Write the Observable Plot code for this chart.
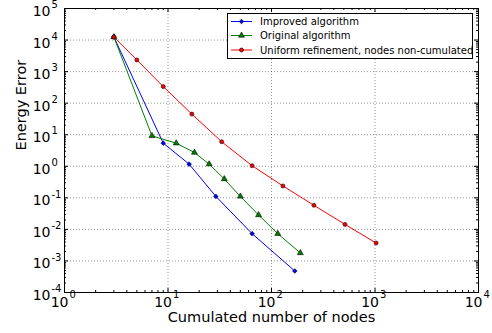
<!DOCTYPE html>
<html>
<head>
<meta charset="utf-8">
<script src="https://cdn.jsdelivr.net/npm/d3@7"></script>
<script src="https://cdn.jsdelivr.net/npm/@observablehq/plot@0.6"></script>
<style>
  html, body { margin: 0; padding: 0; background: white; }
  #wrap { position: relative; width: 492px; height: 333px; font-family: "DejaVu Sans", sans-serif; }
  #legend { position: absolute; left: 226px; top: 12px; }
</style>
</head>
<body>
<div id="wrap"></div>
<script>
// ---- data ----
const improvedNodes = [3, 9, 16, 29, 65, 168];
const improvedError = [12500, 5.4, 1.17, 0.111, 0.0073, 0.00048];

const originalNodes = [3, 7, 12, 18, 25, 35, 50, 75, 115, 190];
const originalError = [12500, 9.2, 5.4, 2.73, 1.17, 0.394, 0.111, 0.0286, 0.0073, 0.00179];

const uniformNodes = [3, 5, 9, 17, 33, 65, 129, 257, 513, 1025];
const uniformError = [12500, 2350, 335, 45, 6.0, 1.04, 0.238, 0.058, 0.0144, 0.0037];

const seriesNames = ["Improved algorithm", "Original algorithm", "Uniform refinement, nodes non-cumulated"];
const seriesColors = ["#0000ff", "#008000", "#ff0000"];
const seriesSymbols = ["diamond2", "triangle", "circle"];

const xTickExponents = [0, 1, 2, 3, 4];
const yTickExponents = [-4, -3, -2, -1, 0, 1, 2, 3, 4, 5];
const xLabel = "Cumulated number of nodes";
const yLabel = "Energy Error";

// ---- derived ----
const seriesX = [improvedNodes, originalNodes, uniformNodes];
const seriesY = [improvedError, originalError, uniformError];
const tables = seriesX.map((xs, i) => xs.map((x, j) => ({x, y: seriesY[i][j], s: seriesNames[i]})));

const xMajor = xTickExponents.map(e => Math.pow(10, e));
const yMajor = yTickExponents.map(e => Math.pow(10, e));
const minorOf = major => major.slice(0, -1).flatMap(p => [2,3,4,5,6,7,8,9].map(m => m * p));
const xMinor = minorOf(xMajor);
const yMinor = minorOf(yMajor);
const expText = e => String(e);

const FW = 414, FH = 284;
const MR = [2.1, 2.2, 2.0];

const seriesMarks = tables.flatMap((t, i) => [
  Plot.line(t, {x: "x", y: "y", stroke: seriesColors[i], strokeWidth: 1}),
  Plot.dot(t, {x: "x", y: "y", symbol: () => seriesSymbols[i], r: MR[i],
    fill: seriesColors[i], stroke: "black", strokeWidth: 0.6})
]);

const chart = Plot.plot({
  width: 492, height: 333,
  marginLeft: 64, marginRight: 14, marginTop: 8, marginBottom: 41,
  x: {type: "log", domain: [1, 1e4], axis: null},
  y: {type: "log", domain: [1e-4, 1e5], axis: null},
  style: {fontFamily: "DejaVu Sans", background: "white", color: "black"},
  marks: [
    // grid
    Plot.ruleX(xMajor, {x: d => d, stroke: "black", strokeOpacity: 0.7, strokeWidth: 0.6, strokeDasharray: "1,2"}),
    Plot.ruleY(yMajor, {y: d => d, stroke: "black", strokeOpacity: 0.7, strokeWidth: 0.6, strokeDasharray: "1,2"}),
    // ticks (inside, all four sides)
    Plot.ruleX(xMajor, {x: d => d, insetTop: FH - 4, stroke: "black"}),
    Plot.ruleX(xMajor, {x: d => d, insetBottom: FH - 4, stroke: "black"}),
    Plot.ruleX(xMinor, {x: d => d, insetTop: FH - 2, stroke: "black"}),
    Plot.ruleX(xMinor, {x: d => d, insetBottom: FH - 2, stroke: "black"}),
    Plot.ruleY(yMajor, {y: d => d, insetRight: FW - 4, stroke: "black"}),
    Plot.ruleY(yMajor, {y: d => d, insetLeft: FW - 4, stroke: "black"}),
    Plot.ruleY(yMinor, {y: d => d, insetRight: FW - 2, stroke: "black"}),
    Plot.ruleY(yMinor, {y: d => d, insetLeft: FW - 2, stroke: "black"}),
    ...seriesMarks,
    Plot.frame({stroke: "black", strokeWidth: 1}),
    // x tick labels
    Plot.text(xTickExponents, {x: e => Math.pow(10, e), frameAnchor: "bottom", text: () => "10",
      textAnchor: "end", dx: 4, dy: 14, fontSize: 14, fill: "black"}),
    Plot.text(xTickExponents, {x: e => Math.pow(10, e), frameAnchor: "bottom", text: expText,
      textAnchor: "start", dx: 5, dy: 5, fontSize: 10, fill: "black"}),
    // y tick labels
    Plot.text(yTickExponents, {y: e => Math.pow(10, e), frameAnchor: "left", text: () => "10",
      textAnchor: "end", dx: -14, dy: 3, fontSize: 14, fill: "black"}),
    Plot.text(yTickExponents, {y: e => Math.pow(10, e), frameAnchor: "left", text: expText,
      textAnchor: "start", dx: -13, dy: -3.5, fontSize: 10, fill: "black"}),
    // axis labels
    Plot.text([xLabel], {frameAnchor: "bottom", text: d => d, dy: 29, fontSize: 14.5, fill: "black"}),
    Plot.text([yLabel], {frameAnchor: "left", text: d => d, dx: -43, rotate: -90, fontSize: 14.5, fill: "black"})
  ]
});

const wrap = document.getElementById("wrap");
wrap.appendChild(chart);

// ---- legend (inside plot area, upper right) ----
const lg = d3.select(wrap).append("svg").attr("id", "legend")
  .attr("width", 249).attr("height", 48);
lg.append("rect").attr("x", 1.5).attr("y", 1.5).attr("width", 245).attr("height", 45)
  .attr("fill", "white").attr("stroke", "black").attr("stroke-width", 1);
const rowY = [9.5, 23.5, 38];
seriesNames.forEach((name, i) => {
  const g = lg.append("g").attr("transform", `translate(0,${rowY[i]})`);
  g.append("line").attr("x1", 5).attr("x2", 26).attr("y1", 0).attr("y2", 0)
    .attr("stroke", seriesColors[i]).attr("stroke-width", 1);
  const sym = {diamond2: d3.symbolDiamond2, triangle: d3.symbolTriangle, circle: d3.symbolCircle}[seriesSymbols[i]];
  g.append("path").attr("transform", "translate(15.5,0)")
    .attr("d", d3.symbol(sym, Math.PI * MR[i] * MR[i])())
    .attr("fill", seriesColors[i]).attr("stroke", "black").attr("stroke-width", 0.6);
  g.append("text").attr("x", 34).attr("y", 0).attr("dy", "0.35em")
    .attr("font-family", "DejaVu Sans").attr("font-size", 10).attr("fill", "black").text(name);
});
</script>
</body>
</html>
